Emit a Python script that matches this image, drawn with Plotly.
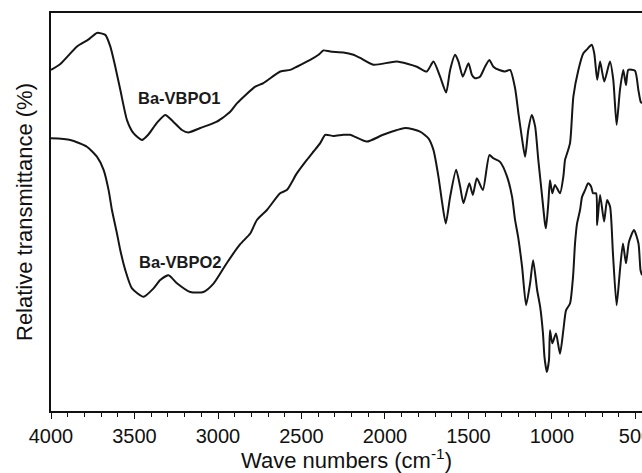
import plotly.graph_objects as go

# Ba-VBPO1 (upper trace)
wn1 = [4000, 3944, 3844, 3777, 3725, 3675, 3645, 3615, 3585, 3545, 3506, 3455, 3418, 3366,
       3316, 3268, 3216, 3178, 3106, 3007, 2927, 2887, 2777, 2728, 2627, 2568, 2528, 2448,
       2398, 2368, 2328, 2249, 2189, 2149, 2069, 1929, 1809, 1750, 1710, 1670, 1634, 1610,
       1580, 1560, 1534, 1500, 1480, 1461, 1431, 1401, 1375, 1351, 1311, 1281, 1251, 1221,
       1201, 1181, 1161, 1142, 1121, 1101, 1082, 1061, 1042, 1036, 1022, 1012, 998, 982,
       952, 932, 922, 916, 892, 872, 842, 812, 792, 762, 747, 729, 712, 687, 653, 633, 613,
       593, 573, 557, 543, 503, 483, 469, 461]
t1 = [85.7, 87.2, 91.6, 93.3, 95.0, 94.5, 91.6, 86.5, 80.7, 73.1, 69.8, 68.1, 69.4, 72.4,
      74.4, 72.7, 70.6, 70.0, 71.1, 72.7, 75.2, 77.3, 81.5, 82.4, 85.3, 85.7, 86.5, 88.2,
      89.5, 90.6, 90.3, 90.1, 89.5, 88.7, 87.0, 87.8, 86.5, 85.3, 87.8, 84.0, 80.0, 85.7,
      89.5, 87.8, 84.0, 87.4, 84.5, 83.6, 84.0, 86.5, 88.2, 86.5, 85.6, 85.3, 85.7, 81.1,
      74.8, 68.9, 63.9, 70.6, 74.4, 71.5, 63.1, 54.7, 47.1, 45.9, 52.2, 58.0, 54.7, 56.8,
      54.7, 58.9, 63.1, 63.9, 67.3, 79.0, 85.7, 89.9, 90.8, 92.0, 89.9, 83.2, 87.8, 82.8,
      87.8, 83.2, 71.9, 80.7, 85.7, 81.9, 85.7, 85.5, 80.7, 77.7, 77.3]

# Ba-VBPO2 (lower trace)
wn2 = [4000, 3884, 3785, 3725, 3685, 3655, 3635, 3605, 3585, 3555, 3515, 3446, 3386, 3346,
       3296, 3246, 3166, 3087, 3027, 2947, 2867, 2807, 2767, 2707, 2628, 2588, 2528, 2468,
       2428, 2388, 2358, 2309, 2249, 2209, 2109, 2011, 1879, 1790, 1740, 1710, 1680, 1660,
       1636, 1610, 1574, 1550, 1530, 1495, 1474, 1450, 1414, 1375, 1351, 1311, 1269, 1239,
       1221, 1203, 1179, 1155, 1131, 1113, 1089, 1071, 1054, 1045, 1031, 1018, 1012, 998,
       976, 952, 932, 916, 892, 874, 862, 850, 832, 820, 802, 784, 766, 754, 736, 730, 712,
       688, 670, 652, 635, 613, 593, 575, 557, 539, 509, 482, 470, 461]
t2 = [68.5, 68.1, 66.4, 63.9, 60.6, 55.5, 50.5, 44.6, 40.4, 35.4, 30.8, 28.7, 30.8, 32.9,
      34.1, 32.1, 29.9, 29.9, 32.0, 37.2, 41.9, 44.6, 48.0, 50.5, 54.7, 55.5, 59.7, 63.1,
      65.2, 67.3, 69.4, 69.1, 69.4, 69.4, 67.7, 69.4, 71.1, 70.2, 68.5, 65.6, 58.9, 53.0,
      47.1, 53.8, 60.6, 56.4, 52.2, 57.2, 54.3, 58.5, 55.5, 64.3, 63.5, 62.6, 58.9, 53.8,
      48.0, 43.8, 36.2, 26.6, 32.1, 37.9, 30.4, 26.2, 19.5, 13.6, 9.8, 12.8, 20.3, 17.0,
      19.5, 14.4, 20.3, 25.3, 27.0, 33.7, 42.1, 47.1, 50.5, 53.8, 55.5, 57.2, 56.4, 54.7,
      54.7, 46.7, 54.3, 47.6, 53.0, 51.3, 39.6, 26.6, 35.4, 42.1, 37.1, 42.5, 45.5, 42.1,
      35.4, 34.1]

labels = ["Ba-VBPO1", "Ba-VBPO2"]
label_x = [3232, 3226]
label_y = [78.7, 37.4]

FONT = "Arial, Liberation Sans, Helvetica, sans-serif"

fig = go.Figure()
for wn, t in ((wn1, t1), (wn2, t2)):
    fig.add_trace(go.Scatter(x=wn, y=t, mode="lines",
                             line=dict(color="#151515", width=2, shape="spline", smoothing=0.6),
                             showlegend=False, hoverinfo="skip"))

for txt, lx, ly in zip(labels, label_x, label_y):
    fig.add_annotation(x=lx, y=ly, text="<b>" + txt + "</b>", showarrow=False,
                       font=dict(family=FONT, size=16.5, color="#1a1a1a"),
                       xanchor="center", yanchor="middle")

# y-axis title placed as rotated text left of the axis
fig.add_annotation(xref="paper", yref="paper", x=0, y=0.5, xshift=-27,
                   text="Relative transmittance (%)", textangle=-90, showarrow=False,
                   font=dict(size=22, family=FONT, color="#111111"),
                   xanchor="center", yanchor="middle")

fig.update_layout(
    width=642, height=473,
    margin=dict(l=51, r=0, t=13, b=62, autoexpand=False),
    paper_bgcolor="white", plot_bgcolor="white",
    font=dict(family=FONT, color="#111111"),
    xaxis=dict(range=[4000, 461], autorange=False, automargin=False,
               tickmode="linear", tick0=0, dtick=500,
               ticks="outside", ticklen=6, tickwidth=1.2, tickcolor="#111111",
               minor=dict(dtick=100, ticks="outside", ticklen=4, tickwidth=1, tickcolor="#111111"),
               showline=True, linecolor="#111111", linewidth=1.5, mirror=True,
               showgrid=False, zeroline=False, ticklabeloverflow="allow",
               tickfont=dict(size=20, family=FONT, color="#111111"),
               title=dict(text="Wave numbers (cm<sup>-1</sup>)",
                          font=dict(size=22, family=FONT, color="#111111"))),
    yaxis=dict(range=[0, 100], autorange=False, automargin=False,
               showticklabels=False, ticks="",
               showline=True, linecolor="#111111", linewidth=1.5, mirror=False,
               showgrid=False, zeroline=False),
)

fig.write_html("out.html", config={"displayModeBar": False},
               post_script="document.body.style.margin='0';document.body.style.overflow='hidden';")
